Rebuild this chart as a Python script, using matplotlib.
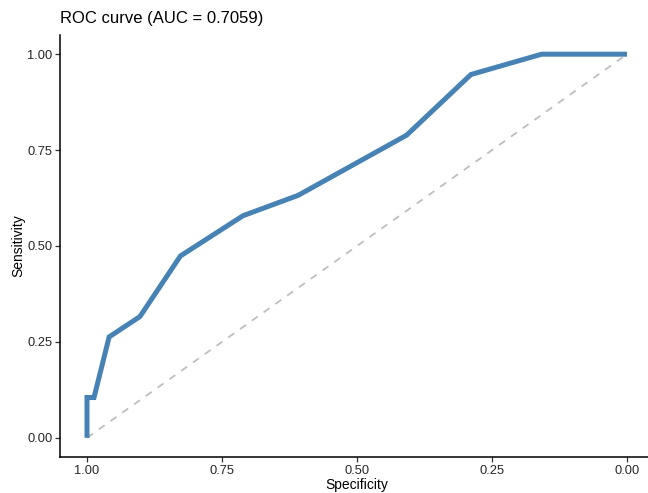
import matplotlib
matplotlib.use('Agg')
import matplotlib.pyplot as plt

plt.rcParams['font.family'] = ['Liberation Sans', 'DejaVu Sans']

# ROC points
specificity = [1.00, 1.00, 0.987, 0.959, 0.902, 0.827, 0.711, 0.609, 0.408, 0.289, 0.158, 0.00]
sensitivity = [0.0, 0.105, 0.105, 0.263, 0.316, 0.474, 0.579, 0.632, 0.789, 0.947, 1.0, 1.0]
tick_vals = [1.00, 0.75, 0.50, 0.25, 0.00]
title = 'ROC curve (AUC = 0.7059)'

fig = plt.figure(figsize=(6.48, 4.93), dpi=100)
ax = fig.add_axes([60 / 648, 36 / 493, 594 / 648, 422 / 493])

ax.plot([1, 0], [0, 1], color='#bebebe', lw=1.3, ls=(0, (4, 4)), zorder=1)
ax.plot(specificity, sensitivity, color='#4682b4', lw=3.6,
        solid_joinstyle='miter', solid_capstyle='butt', zorder=2)

ax.set_xlim(1.05, -0.05)
ax.set_ylim(-0.05, 1.05)
ax.set_xticks(tick_vals)
ax.set_yticks(tick_vals)
ax.set_xticklabels(['%.2f' % v for v in tick_vals])
ax.set_yticklabels(['%.2f' % v for v in tick_vals])

for s in ['top', 'right']:
    ax.spines[s].set_visible(False)
for s in ['left', 'bottom']:
    ax.spines[s].set_linewidth(1.1)
    ax.spines[s].set_color('#000000')

ax.tick_params(axis='both', length=3.5, width=0.9, color='#333333',
               labelsize=9.3, labelcolor='#262626', pad=2)

ax.set_xlabel('Specificity', fontsize=10, labelpad=1)
ax.set_ylabel('Sensitivity', fontsize=10, labelpad=1.5)

fig.text(60 / 648, 1 - 18 / 493, title, fontsize=12, va='center', ha='left')

fig.savefig('out.png', dpi=100)
